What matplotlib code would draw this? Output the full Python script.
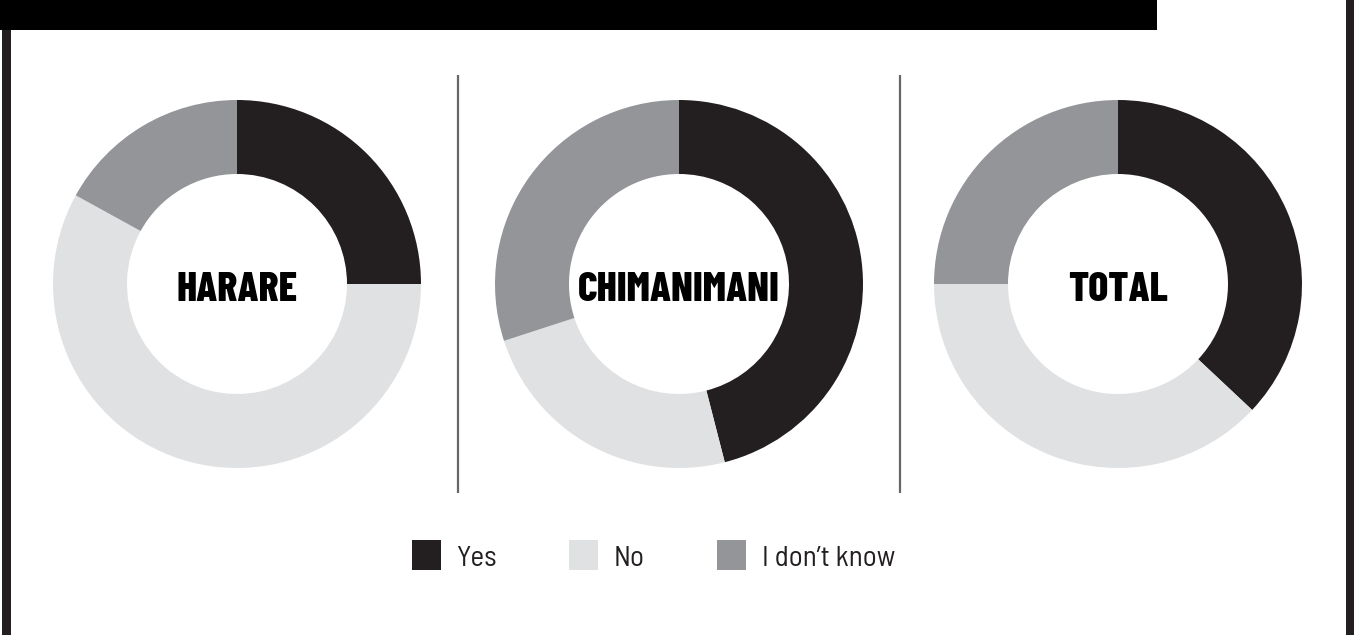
import matplotlib
matplotlib.use("Agg")
import matplotlib.pyplot as plt
from matplotlib.patches import Rectangle

# survey results, share of answers per region (percent)
regions = ["HARARE", "CHIMANIMANI", "TOTAL"]
answers = ["Yes", "No", "I don\u2019t know"]
yes_share = [25, 46, 37]
no_share = [58, 24, 38]
dont_know_share = [17, 30, 25]

colors = ["#231f20", "#e0e1e3", "#939598"]
title_font = ["Barlow Condensed", "DejaVu Sans"]
legend_font = ["Barlow Semi Condensed", "DejaVu Sans"]

W, H = 1354, 635
fig = plt.figure(figsize=(W / 100, H / 100), dpi=100)
ax = fig.add_axes([0, 0, 1, 1])

centers_x = [237, 679, 1118]
cy = H - 284
radius = 184
ring = 74

for i, name in enumerate(regions):
    vals = [yes_share[i], no_share[i], dont_know_share[i]]
    ax.pie(vals, colors=colors, center=(centers_x[i], cy), radius=radius,
           startangle=90, counterclock=False,
           wedgeprops=dict(width=ring, linewidth=0))
    ax.text(centers_x[i], H - 301, name, ha="center", va="baseline",
            fontsize=30, fontweight=800, family=title_font, color="black")

# thin separators between the rings
for x in (458, 900):
    ax.plot([x, x], [H - 75, H - 493], color="#666666", lw=1.6,
            solid_capstyle="butt")

# frame: heading bar and side rules
ax.add_patch(Rectangle((0, H - 30), 1157, 30, color="black", lw=0))
ax.add_patch(Rectangle((2, 0), 9, H - 30, color="#231f20", lw=0))
ax.add_patch(Rectangle((1346, 0), 8, H, color="#231f20", lw=0))

# legend
leg_x = [412, 569, 717]
for x, label, c in zip(leg_x, answers, colors):
    ax.add_patch(Rectangle((x, H - 570), 29, 30, color=c, lw=0))
    ax.text(x + 45, H - 566, label, ha="left", va="baseline", fontsize=21,
            fontweight=400, family=legend_font, color="#231f20")

ax.set_xlim(0, W)
ax.set_ylim(0, H)
ax.set_aspect("equal")
ax.axis("off")

fig.savefig("out.png", dpi=100)
